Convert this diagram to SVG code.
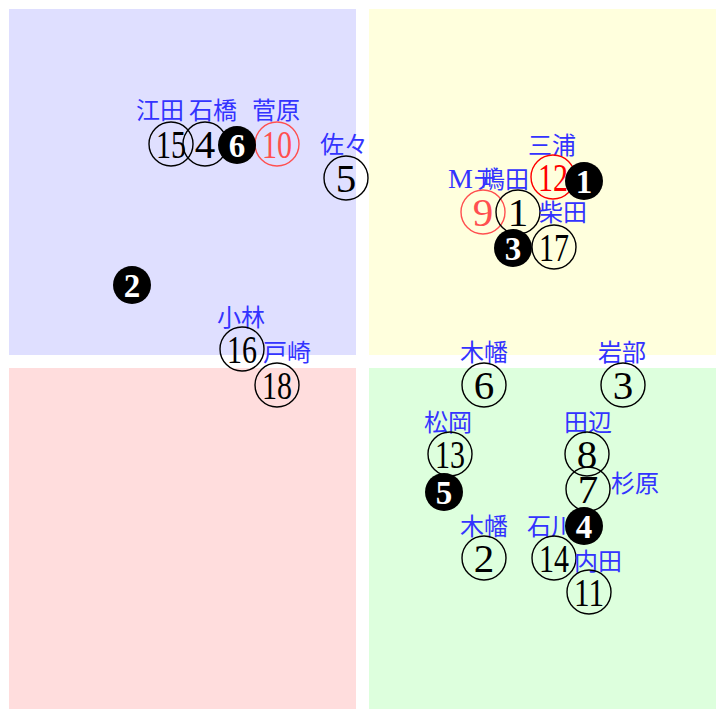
<svg xmlns="http://www.w3.org/2000/svg" width="716" height="709" viewBox="0 0 716 709">
<style>
.c{fill:none;stroke:#000;stroke-width:1.4}
.cr{fill:none;stroke:#ff0000;stroke-width:1.4}
.cl{fill:none;stroke:#ff5050;stroke-width:1.4}
.n{font-family:"Liberation Serif",serif;font-size:41px;text-anchor:middle;fill:#000}
.nr{fill:#ff0000}
.nl{fill:#ff5050}
.f{fill:#000}
.fn{font-family:"Liberation Serif",serif;font-weight:bold;font-size:33px;text-anchor:middle;fill:#fff}
.lb{font-family:"Liberation Serif","Noto Sans CJK JP",sans-serif;font-size:24px;text-anchor:middle;fill:#3333ff}
</style>
<g id="quadrants">
<rect x="9" y="9" width="347" height="346" fill="#dfdfff"/>
<rect x="369" y="9" width="347" height="346" fill="#ffffdd"/>
<rect x="9" y="368" width="347" height="341" fill="#ffdddd"/>
<rect x="369" y="368" width="347" height="341" fill="#ddffdd"/>
</g>
<g id="n15"><text class="lb" x="160" y="119">江田</text><circle class="c" cx="171" cy="144" r="22"/><text class="n" x="171" y="157.5" textLength="30" lengthAdjust="spacingAndGlyphs">15</text></g>
<g id="n4"><text class="lb" x="213" y="119">石橋</text><circle class="c" cx="205" cy="144" r="22"/><text class="n" x="205" y="157.5">4</text></g>
<g id="n10"><text class="lb" x="276" y="119">菅原</text><circle class="cl" cx="277" cy="144" r="22"/><text class="n nl" x="277" y="157.5" textLength="30" lengthAdjust="spacingAndGlyphs">10</text></g>
<g id="n5"><text class="lb" x="344" y="153">佐々</text><circle class="c" cx="346" cy="178" r="22"/><text class="n" x="346" y="191.5">5</text></g>
<g id="n16"><text class="lb" x="241" y="326">小林</text><circle class="c" cx="242" cy="349" r="22"/><text class="n" x="242" y="362.5" textLength="30" lengthAdjust="spacingAndGlyphs">16</text></g>
<g id="n18"><text class="lb" x="287" y="361">戸崎</text><circle class="c" cx="277" cy="385" r="22"/><text class="n" x="277" y="398.5" textLength="30" lengthAdjust="spacingAndGlyphs">18</text></g>
<g id="n12"><text class="lb" x="552" y="154">三浦</text><circle class="cr" cx="553" cy="177" r="22"/><text class="n nr" x="553" y="190.5" textLength="30" lengthAdjust="spacingAndGlyphs">12</text></g>
<g id="n9"><text class="lb" x="448" y="188" style="text-anchor:start"><tspan font-size="28">M</tspan>デ</text><circle class="cl" cx="483" cy="212" r="22"/><text class="n nl" x="483" y="225.5">9</text></g>
<g id="n1"><text class="lb" x="505" y="188">嶋田</text><circle class="c" cx="518" cy="212" r="22"/><text class="n" x="518" y="225.5">1</text></g>
<g id="n17"><text class="lb" x="563" y="221">柴田</text><circle class="c" cx="554" cy="247" r="22"/><text class="n" x="554" y="260.5" textLength="30" lengthAdjust="spacingAndGlyphs">17</text></g>
<g id="n6"><text class="lb" x="484" y="361">木幡</text><circle class="c" cx="484" cy="385" r="22"/><text class="n" x="484" y="398.5">6</text></g>
<g id="n3"><text class="lb" x="622" y="361">岩部</text><circle class="c" cx="623" cy="385" r="22"/><text class="n" x="623" y="398.5">3</text></g>
<g id="n13"><text class="lb" x="448" y="431">松岡</text><circle class="c" cx="450" cy="454" r="22"/><text class="n" x="450" y="467.5" textLength="30" lengthAdjust="spacingAndGlyphs">13</text></g>
<g id="n8"><text class="lb" x="588" y="431">田辺</text><circle class="c" cx="587" cy="454" r="22"/><text class="n" x="587" y="467.5">8</text></g>
<g id="n7"><text class="lb" x="635" y="492">杉原</text><circle class="c" cx="588" cy="489" r="22"/><text class="n" x="588" y="502.5">7</text></g>
<g id="n2"><text class="lb" x="484" y="535">木幡</text><circle class="c" cx="484" cy="558" r="22"/><text class="n" x="484" y="571.5">2</text></g>
<g id="n14"><text class="lb" x="551" y="535">石川</text><circle class="c" cx="554" cy="558" r="22"/><text class="n" x="554" y="571.5" textLength="30" lengthAdjust="spacingAndGlyphs">14</text></g>
<g id="n11"><text class="lb" x="598" y="570">内田</text><circle class="c" cx="589" cy="592" r="22"/><text class="n" x="589" y="605.5" textLength="30" lengthAdjust="spacingAndGlyphs">11</text></g>
<g id="b6"><circle class="f" cx="237" cy="145" r="19"/><text class="fn" x="237" y="157">6</text></g>
<g id="b2"><circle class="f" cx="132" cy="285" r="19"/><text class="fn" x="132" y="297">2</text></g>
<g id="b1"><circle class="f" cx="584" cy="181" r="19"/><text class="fn" x="584" y="193">1</text></g>
<g id="b3"><circle class="f" cx="513" cy="248" r="19"/><text class="fn" x="513" y="260">3</text></g>
<g id="b5"><circle class="f" cx="444" cy="492" r="19"/><text class="fn" x="444" y="504">5</text></g>
<g id="b4"><circle class="f" cx="584" cy="526" r="19"/><text class="fn" x="584" y="538">4</text></g>
</svg>
